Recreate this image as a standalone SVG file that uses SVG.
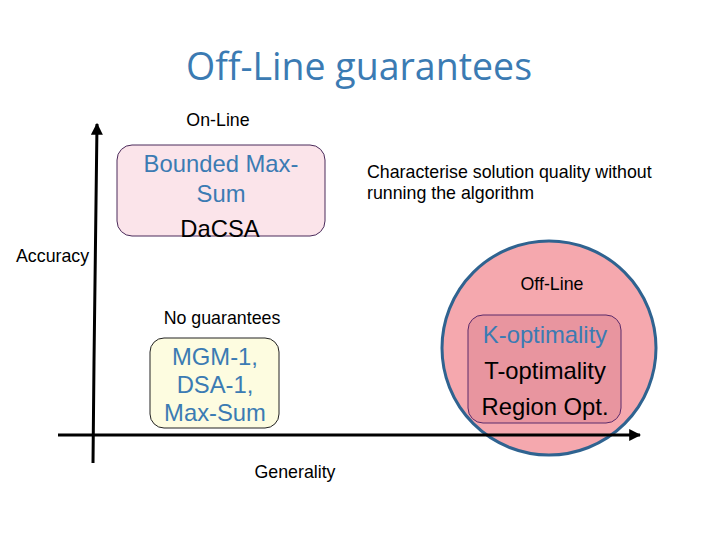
<svg xmlns="http://www.w3.org/2000/svg" width="720" height="540" viewBox="0 0 720 540">
<style>
.lbl{font-family:"Liberation Sans",Arial,sans-serif;font-size:17.8px;fill:#000}
.big{font-family:"Liberation Sans",Arial,sans-serif;font-size:23.8px;text-anchor:middle}
.blue{fill:#3b7bb3}
.blk{fill:#000}
.ax{stroke:#000;stroke-width:3;fill:none}
</style>
<defs>
<marker id="ah" viewBox="0 0 10 10" refX="9" refY="5" markerWidth="4" markerHeight="4" orient="auto" markerUnits="strokeWidth">
<path d="M0,0 L10,5 L0,10 z" fill="#000"/>
</marker>
</defs>
<rect width="720" height="540" fill="#fff"/>
<text x="359" y="80" text-anchor="middle" font-family="'Open Sans','Liberation Sans',sans-serif" font-size="37.5" fill="#3b7bb3">Off-Line guarantees</text>

<g id="offline-circle">
<circle cx="549" cy="348" r="107" fill="#f5a8ae" stroke="#2f6390" stroke-width="3"/>
<text class="lbl" x="552" y="290" text-anchor="middle">Off-Line</text>
</g>

<g id="connectors">
<path class="ax" d="M93,463 L94,362 L97,124" marker-end="url(#ah)"/>
<line class="ax" x1="58" y1="435" x2="640" y2="435" marker-end="url(#ah)"/>
</g>

<g id="online">
<text class="lbl" x="218" y="126" text-anchor="middle">On-Line</text>
<rect x="117" y="145" width="208" height="91" rx="15" fill="#fbe4ea" stroke="#4a2a5a" stroke-width="1"/>
<text class="big blue" x="221" y="172">Bounded Max-</text>
<text class="big blue" x="221" y="202">Sum</text>
<text class="big blk" x="220" y="237">DaCSA</text>
</g>

<g id="accuracy"><text class="lbl" x="16" y="262">Accuracy</text></g>

<g id="note">
<text class="lbl" x="367" y="178">Characterise solution quality without</text>
<text class="lbl" x="367" y="199">running the algorithm</text>
</g>

<g id="offline-box">
<rect x="468" y="315" width="153" height="108" rx="15" fill="#e8959f" stroke="#5a2a6a" stroke-width="1"/>
<text class="big blue" x="545" y="343">K-optimality</text>
<text class="big blk" x="545" y="379">T-optimality</text>
<text class="big blk" x="545" y="415">Region Opt.</text>
</g>

<g id="noguar">
<text class="lbl" x="222" y="324" text-anchor="middle">No guarantees</text>
<rect x="150" y="338" width="129" height="90" rx="14" fill="#fdfce0" stroke="#222" stroke-width="1"/>
<text class="big blue" x="215" y="365">MGM-1,</text>
<text class="big blue" x="215" y="393">DSA-1,</text>
<text class="big blue" x="215" y="421">Max-Sum</text>
</g>

<g id="generality"><text class="lbl" x="295" y="478" text-anchor="middle">Generality</text></g>
</svg>
